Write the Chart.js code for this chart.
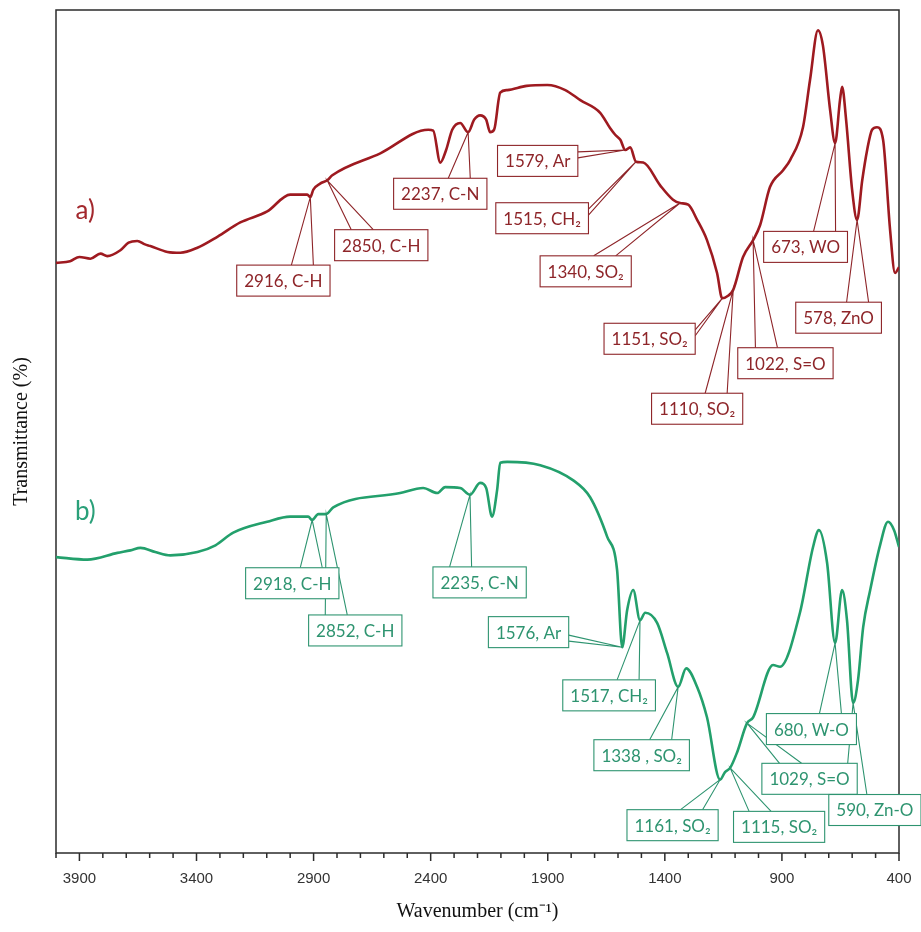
<!DOCTYPE html>
<html>
<head>
<meta charset="utf-8">
<script src="https://cdn.jsdelivr.net/npm/chart.js@4.4.1/dist/chart.umd.min.js"></script>
<style>
  html, body { margin: 0; padding: 0; background: #fff; }
</style>
</head>
<body>
<canvas id="ftir" width="921" height="932"></canvas>
<script>
// spettro a) - numeri d'onda (cm-1) e trasmittanza
const waveA = [4000, 3940, 3900, 3853, 3810, 3781, 3725, 3690, 3653, 3620, 3597, 3524, 3469, 3396, 3311, 3213, 3098, 3000, 2927, 2914,
    2901, 2872, 2842, 2820, 2615, 2410, 2389, 2359, 2334, 2308, 2274, 2240, 2214, 2189, 2163, 2146, 2129, 2103, 2073, 1990,
    1902, 1825, 1761, 1676, 1634, 1612, 1590, 1569, 1548, 1523, 1492, 1420, 1365, 1335, 1300, 1262, 1220, 1177, 1155, 1130,
    1108, 1066, 1023, 993, 951, 895, 865, 810, 780, 746, 725, 694, 673, 652, 643, 626, 600, 579, 557, 536,
    515, 494, 468, 438, 417, 400];
const transA = [70.0, 70.2, 70.7, 70.5, 71.1, 70.8, 71.5, 72.4, 72.6, 72.2, 72.0, 71.3, 71.2, 71.8, 73.1, 74.8, 76.1, 78.1, 78.1, 77.8,
    78.7, 79.4, 79.8, 80.4, 83.0, 85.8, 85.7, 81.9, 83.4, 85.8, 86.6, 85.5, 87.0, 87.5, 87.0, 85.5, 85.8, 90.2, 90.5, 91.0,
    91.1, 90.5, 89.3, 87.8, 86.0, 85.2, 84.6, 83.4, 83.7, 82.0, 81.9, 79.2, 77.5, 77.1, 76.9, 75.1, 72.7, 68.8, 65.8, 66.1,
    66.8, 70.7, 72.7, 74.5, 79.0, 81.0, 82.2, 86.1, 91.7, 97.6, 95.8, 88.1, 84.2, 89.3, 90.9, 87.0, 78.6, 75.1, 79.8, 83.4,
    85.8, 86.1, 84.6, 73.9, 68.8, 69.5];

// spettro b)
const waveB = [4000, 3866, 3738, 3682, 3639, 3576, 3512, 3396, 3319, 3243, 3098, 3000, 2923, 2906, 2880, 2846, 2816, 2530, 2432, 2372,
    2338, 2274, 2232, 2189, 2163, 2138, 2116, 2103, 2073, 1932, 1791, 1719, 1646, 1604, 1582, 1561, 1535, 1506, 1484, 1433,
    1390, 1343, 1309, 1262, 1220, 1164, 1143, 1121, 1092, 1049, 1023, 938, 908, 823, 767, 742, 707, 673, 643, 622,
    596, 575, 553, 523, 481, 447, 421, 400];
const transB = [35.1, 34.8, 35.6, 35.9, 36.2, 35.7, 35.3, 35.7, 36.5, 38.0, 39.3, 39.9, 39.9, 39.5, 40.2, 40.2, 41.0, 42.7, 43.3, 42.7,
    43.4, 43.3, 42.5, 43.9, 43.3, 39.9, 43.1, 46.3, 46.4, 46.0, 44.2, 42.2, 37.5, 33.6, 24.4, 28.8, 31.2, 27.6, 28.5, 27.3,
    23.7, 19.7, 21.9, 19.7, 16.1, 8.7, 9.6, 10.1, 11.9, 15.4, 16.1, 22.3, 22.1, 28.5, 36.3, 38.3, 34.4, 24.9, 31.2, 27.6,
    17.8, 20.5, 26.8, 31.2, 36.5, 39.3, 38.3, 36.3];

const xTicks = [3900, 3400, 2900, 2400, 1900, 1400, 900, 400];

// etichette dei picchi
const peakTextA = ["2916, C-H", "2850, C-H", "2237, C-N", "1579, Ar", "1515, CH\u2082", "1340, SO\u2082", "1151, SO\u2082", "1110, SO\u2082", "1022, S=O", "673, WO", "578, ZnO"];
const peakAtA = [2914, 2842, 2240, 1569, 1523, 1335, 1155, 1108, 1023, 673, 579];
const peakTextB = ["2918, C-H", "2852, C-H", "2235, C-N", "1576, Ar", "1517, CH\u2082", "1338 , SO\u2082", "1161, SO\u2082", "1115, SO\u2082", "1029, S=O", "680, W-O", "590, Zn-O"];
const peakAtB = [2906, 2846, 2232, 1582, 1506, 1343, 1164, 1121, 1049, 673, 596];

// dove stanno i riquadri (centro, in unita' degli assi)
const boxPosA = [[3029, 67.9], [2611, 72.1], [2359, 78.2], [1943, 82.1], [1924, 75.3], [1738, 69.0], [1465, 61.0], [1262, 52.7], [885, 58.1], [799, 71.9], [658, 63.5]];
const boxPosB = [[2991, 32.0], [2722, 26.4], [2191, 32.1], [1982, 26.2], [1638, 18.7], [1499, 11.6], [1367, 3.3], [912, 3.1], [782, 8.8], [774, 14.7], [503, 5.1]];
const tagPos = [[3875, 76.2], [3875, 40.5]];

const RED = "#9E1A20";
const RED_TXT = "#8E2529";
const GREEN = "#23A06C";
const GREEN_TXT = "#2E9470";

function toPoints(xs, ys) {
    return xs.map((x, i) => ({ x: x, y: ys[i] }));
}

function valueAt(waves, vals, w) {
    for (let i = 0; i < waves.length - 1; i++) {
        if (w <= waves[i] && w >= waves[i + 1]) {
            const t = (waves[i] - w) / (waves[i] - waves[i + 1]);
            return vals[i] + t * (vals[i + 1] - vals[i]);
        }
    }
    return vals[vals.length - 1];
}

// calcola riquadro e coda di ogni etichetta
function layoutCallouts(chart, texts, ats, boxes, waves, vals) {
    const ctx = chart.ctx, sx = chart.scales.x, sy = chart.scales.y;
    ctx.font = "17px Lato";
    return texts.map(function (txt, i) {
        const ax = sx.getPixelForValue(ats[i]);
        const ay = sy.getPixelForValue(valueAt(waves, vals, ats[i]));
        const cx = sx.getPixelForValue(boxes[i][0]);
        const cy = sy.getPixelForValue(boxes[i][1]);
        const w = ctx.measureText(txt).width + 15, h = 31;
        const l = cx - w / 2, r = cx + w / 2, t = cy - h / 2, b = cy + h / 2;
        const dx = ax < l ? l - ax : (ax > r ? ax - r : 0);
        const dy = ay < t ? t - ay : (ay > b ? ay - b : 0);
        let p1, p2;
        if (dy >= dx) {
            const s = ax >= cx ? 1 : -1;
            const ey = ay < t ? t : b;
            p1 = [cx + s * 8, ey]; p2 = [cx + s * 30, ey];
        } else {
            const s = ay >= cy ? 1 : -1;
            const ex = ax < l ? l : r;
            p1 = [ex, cy + s * 3]; p2 = [ex, cy + s * 9];
        }
        return { txt, ax, ay, cx, cy, l, t, w, h, p1, p2 };
    });
}

function drawCallouts(ctx, items, color, txtColor) {
    ctx.save();
    ctx.strokeStyle = color;
    ctx.lineWidth = 1.1;
    items.forEach(function (c) {
        ctx.beginPath();
        ctx.moveTo(c.p1[0], c.p1[1]);
        ctx.lineTo(c.ax, c.ay);
        ctx.lineTo(c.p2[0], c.p2[1]);
        ctx.stroke();
    });
    ctx.font = "17px Lato";
    ctx.textAlign = "center";
    ctx.textBaseline = "middle";
    items.forEach(function (c) {
        ctx.fillStyle = "#fff";
        ctx.fillRect(c.l, c.t, c.w, c.h);
        ctx.strokeRect(c.l, c.t, c.w, c.h);
        ctx.fillStyle = txtColor;
        ctx.fillText(c.txt, c.cx, c.cy + 1);
    });
    ctx.restore();
}

const framePlugin = {
    id: "frame",
    beforeDatasetsDraw(chart) {
        const { ctx, chartArea: a, scales: { x } } = chart;
        ctx.save();
        ctx.strokeStyle = "#2b2b2b";
        ctx.lineWidth = 1.5;
        ctx.strokeRect(a.left, a.top, a.right - a.left, a.bottom - a.top);
        ctx.beginPath();
        for (let v = 400; v <= 4000; v += 100) {
            const px = x.getPixelForValue(v);
            const len = (v - 400) % 500 === 0 ? 8 : 5;
            ctx.moveTo(px, a.bottom);
            ctx.lineTo(px, a.bottom + len);
        }
        ctx.stroke();
        ctx.restore();
    }
};

const calloutPlugin = {
    id: "callouts",
    afterDatasetsDraw(chart) {
        const ctx = chart.ctx, sx = chart.scales.x, sy = chart.scales.y;
        const itemsA = layoutCallouts(chart, peakTextA, peakAtA, boxPosA, waveA, transA);
        const itemsB = layoutCallouts(chart, peakTextB, peakAtB, boxPosB, waveB, transB);
        drawCallouts(ctx, itemsA, RED_TXT, RED_TXT);
        drawCallouts(ctx, itemsB, GREEN_TXT, GREEN_TXT);

        ctx.save();
        ctx.font = "26px Lato";
        ctx.textAlign = "center";
        ctx.textBaseline = "middle";
        ctx.fillStyle = "#A3282D";
        ctx.fillText("a)", sx.getPixelForValue(tagPos[0][0]), sy.getPixelForValue(tagPos[0][1]));
        ctx.fillStyle = "#2AA079";
        ctx.fillText("b)", sx.getPixelForValue(tagPos[1][0]), sy.getPixelForValue(tagPos[1][1]));
        ctx.restore();
    }
};

window.addEventListener("load", function () {
    new Chart(document.getElementById("ftir"), {
        type: "line",
        data: {
            datasets: [
                { label: "a)", data: toPoints(waveA, transA), borderColor: RED, borderWidth: 2.6, pointRadius: 0, cubicInterpolationMode: "monotone" },
                { label: "b)", data: toPoints(waveB, transB), borderColor: GREEN, borderWidth: 2.6, pointRadius: 0, cubicInterpolationMode: "monotone" }
            ]
        },
        options: {
            responsive: false,
            animation: false,
            layout: { padding: { top: 10, right: 22, left: 0, bottom: 0 } },
            plugins: { legend: { display: false }, tooltip: { enabled: false } },
            scales: {
                x: {
                    type: "linear",
                    min: 400, max: 4000,
                    reverse: true,
                    grid: { display: false, drawTicks: false },
                    border: { display: false },
                    afterBuildTicks: function (s) { s.ticks = xTicks.map(v => ({ value: v })); },
                    afterFit: function (s) { s.height = 79; s.paddingLeft = 0; s.paddingRight = 0; },
                    ticks: {
                        autoSkip: false, maxRotation: 0, padding: 17,
                        color: "#333",
                        font: { family: "'Liberation Sans Narrow', 'Liberation Sans', sans-serif", size: 15 },
                        callback: v => String(v)
                    },
                    title: {
                        display: true,
                        text: "Wavenumber (cm\u207B\u00B9)",
                        color: "#111",
                        font: { family: "'Liberation Serif', serif", size: 20 },
                        padding: { top: 0, bottom: 8 }
                    }
                },
                y: {
                    min: 0, max: 100,
                    grid: { display: false, drawTicks: false },
                    border: { display: false },
                    ticks: { display: false },
                    afterFit: function (s) { s.width = 56; s.paddingTop = 0; s.paddingBottom = 0; },
                    title: {
                        display: true,
                        text: "Transmittance (%)",
                        color: "#111",
                        font: { family: "'Liberation Serif', serif", size: 20 },
                        padding: { top: 10, bottom: 0 }
                    }
                }
            }
        },
        plugins: [framePlugin, calloutPlugin]
    });
});
</script>
</body>
</html>
